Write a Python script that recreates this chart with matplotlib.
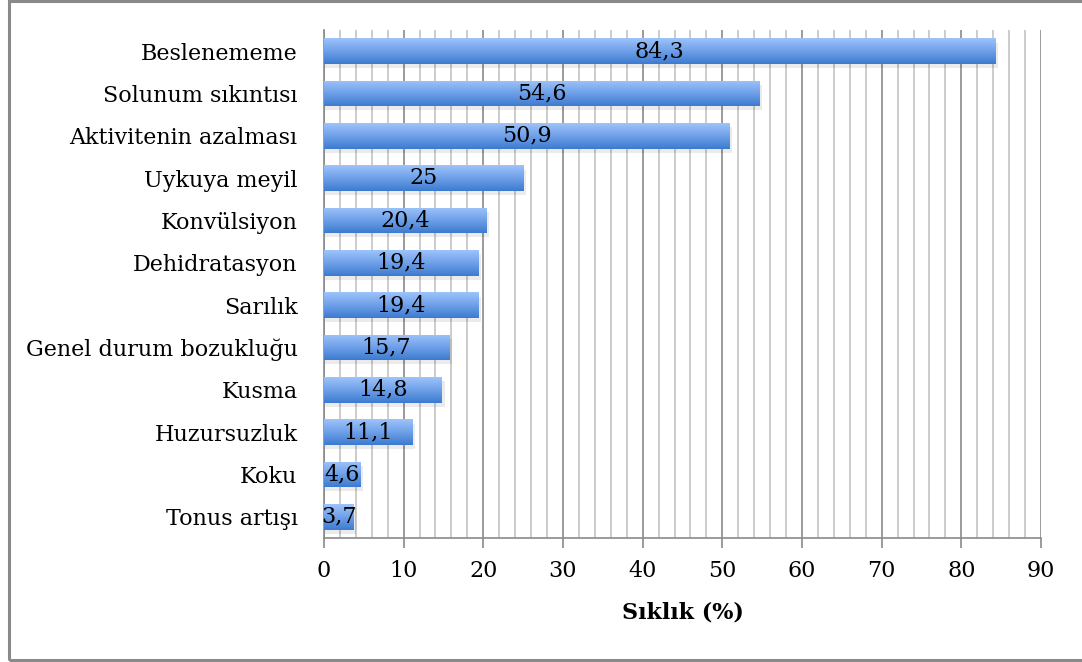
import numpy as np
import matplotlib.pyplot as plt
from matplotlib.patches import Rectangle
from matplotlib.colors import LinearSegmentedColormap

symptoms = ["Beslenememe", "Solunum sıkıntısı", "Aktivitenin azalması", "Uykuya meyil",
            "Konvülsiyon", "Dehidratasyon", "Sarılık", "Genel durum bozukluğu",
            "Kusma", "Huzursuzluk", "Koku", "Tonus artışı"]
freq = [84.3, 54.6, 50.9, 25, 20.4, 19.4, 19.4, 15.7, 14.8, 11.1, 4.6, 3.7]
value_labels = ["84,3", "54,6", "50,9", "25", "20,4", "19,4", "19,4", "15,7",
                "14,8", "11,1", "4,6", "3,7"]

plt.rcParams["font.family"] = ["DejaVu Serif"]

fig = plt.figure(figsize=(10.82, 6.62), dpi=100)
ax = fig.add_axes([0.2994, 0.1873, 0.6627, 0.7674])

# outer frame
fig.patches.append(Rectangle((9 / 1082, 2 / 662), 1.0, 1 - 3 / 662, transform=fig.transFigure,
                             fill=False, edgecolor="#8a8a8a", linewidth=2.2, zorder=0))

y = np.arange(len(symptoms))[::-1]
h = 0.6
cmap = LinearSegmentedColormap.from_list("bar", ["#3c7bd0", "#6fa0e8", "#9dc3fa"])
grad = np.linspace(0, 1, 64).reshape(-1, 1)

for yi, v, lab in zip(y, freq, value_labels):
    # shadow
    ax.add_patch(Rectangle((0, yi - h / 2 - 0.1), v + 0.35, h, facecolor="#000000",
                           alpha=0.08, edgecolor="none", zorder=2))
    bars = ax.barh(yi, v, height=h, color="none", edgecolor="none", zorder=3)
    im = ax.imshow(grad, aspect="auto", cmap=cmap, origin="lower",
                   extent=(0, v, yi - h / 2, yi + h / 2), zorder=3)
    im.set_clip_path(bars[0])
    ax.text(v / 2, yi, lab, ha="center", va="center", fontsize=16, color="black", zorder=4)

ax.set_xlim(0, 90)
ax.set_ylim(-0.5, len(symptoms) - 0.5)
ax.set_xticks(np.arange(0, 91, 10))
ax.set_xticks(np.arange(0, 91, 2), minor=True)
ax.set_yticks(y)
ax.set_yticklabels(symptoms, fontsize=16)
ax.tick_params(axis="y", length=0, pad=19)
ax.tick_params(axis="x", which="major", length=7, width=1.2, color="#8a8a8a", labelsize=16, pad=9)
ax.tick_params(axis="x", which="minor", length=0)
ax.grid(axis="x", which="major", color="#8a8a8a", linewidth=1.2, zorder=1)
ax.grid(axis="x", which="minor", color="#c4c4c4", linewidth=1.2, zorder=1)
ax.set_axisbelow(True)
for s in ["top", "right"]:
    ax.spines[s].set_visible(False)
for s in ["left", "bottom"]:
    ax.spines[s].set_color("#8a8a8a")
    ax.spines[s].set_linewidth(1.2)

ax.set_xlabel("Sıklık (%)", fontsize=16, fontweight="bold", labelpad=14)

fig.savefig("out.png", dpi=100)
